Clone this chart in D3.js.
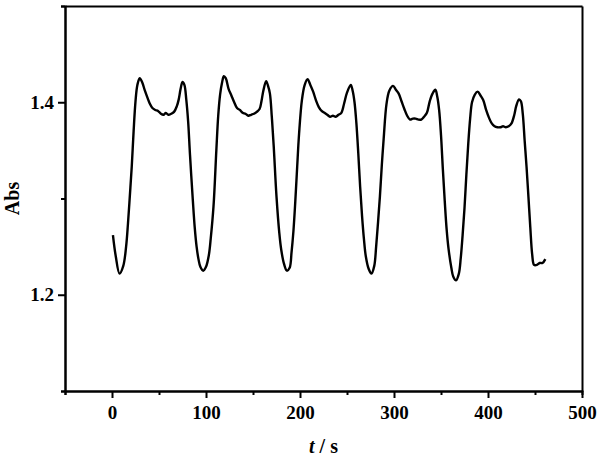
<!DOCTYPE html>
<meta charset="utf-8">
<style>
  body { margin: 0; background: #fff; }
  svg { display: block; }
  .axis text { font: bold 19px "Liberation Serif", "Times New Roman", serif; fill: #000; }
  .axis path, .axis line { stroke: #000; stroke-width: 2px; }
  .title { font: bold 20px "Liberation Serif", "Times New Roman", serif; fill: #000; }
</style>
<body>
<script src="https://d3js.org/d3.v7.min.js"></script>
<script>
// time in seconds
var time = [1, 4, 8, 12, 15, 17, 19, 21, 23, 25, 27, 29.5, 32, 35, 38, 40, 43, 46, 49, 52, 55, 57, 60, 63, 66, 69, 71, 73, 75, 77, 79,
  81, 83, 86, 88, 90, 92, 94, 97, 100, 103, 105, 108, 111, 113, 115, 117, 119, 121, 124, 127, 130, 133, 136, 139, 142, 145, 148, 151, 154, 157,
  159, 161, 164, 166, 168, 170, 172, 175, 178, 180, 183, 186, 189, 191, 193, 195, 197, 199, 202, 205, 208, 211, 214, 217, 220, 223, 226, 229, 232, 235,
  238, 241, 244, 247, 250, 254, 256, 258, 260, 262, 264, 266, 268, 270, 273, 276, 279, 281, 283, 285, 287, 289, 292, 295, 299, 302, 305, 308, 311, 314,
  317, 320, 323, 326, 329, 332, 335, 338, 341, 344, 346, 348, 350, 352, 354, 356, 358, 361, 363, 366, 369, 371, 373, 375, 377, 379, 381, 383, 386, 389,
  392, 395, 398, 401, 404, 407, 410, 413, 416, 419, 422, 425, 428, 430, 433, 435, 437, 439, 441, 443, 445, 447, 449, 452, 455, 458, 461];

// absorbance
var absorb = [1.262, 1.240, 1.222, 1.230, 1.250, 1.274, 1.303, 1.333, 1.370, 1.401, 1.418, 1.425, 1.421, 1.412, 1.404, 1.399, 1.394, 1.392, 1.391, 1.388, 1.387, 1.389, 1.387, 1.388, 1.390, 1.396, 1.403, 1.414, 1.421, 1.418, 1.403,
  1.380, 1.345, 1.298, 1.270, 1.250, 1.237, 1.229, 1.225, 1.229, 1.241, 1.258, 1.292, 1.350, 1.386, 1.408, 1.420, 1.427, 1.425, 1.414, 1.407, 1.400, 1.394, 1.392, 1.389, 1.388, 1.386, 1.387, 1.388, 1.390, 1.393,
  1.401, 1.412, 1.422, 1.417, 1.409, 1.385, 1.355, 1.302, 1.264, 1.247, 1.232, 1.225, 1.228, 1.244, 1.266, 1.297, 1.333, 1.367, 1.402, 1.418, 1.424, 1.418, 1.411, 1.402, 1.395, 1.391, 1.389, 1.387, 1.385, 1.386,
  1.385, 1.387, 1.389, 1.399, 1.410, 1.418, 1.412, 1.400, 1.378, 1.347, 1.312, 1.282, 1.258, 1.240, 1.227, 1.222, 1.230, 1.250, 1.275, 1.302, 1.334, 1.362, 1.398, 1.412, 1.417, 1.413, 1.409, 1.401, 1.393, 1.386,
  1.382, 1.383, 1.383, 1.382, 1.382, 1.385, 1.389, 1.401, 1.409, 1.413, 1.406, 1.392, 1.366, 1.330, 1.297, 1.268, 1.248, 1.228, 1.219, 1.215, 1.222, 1.238, 1.262, 1.290, 1.325, 1.357, 1.383, 1.400, 1.408, 1.411,
  1.407, 1.402, 1.392, 1.384, 1.378, 1.375, 1.374, 1.374, 1.375, 1.374, 1.375, 1.378, 1.387, 1.396, 1.403, 1.401, 1.388, 1.360, 1.333, 1.302, 1.270, 1.242, 1.231, 1.231, 1.233, 1.233, 1.237];

var xMajor = [0, 100, 200, 300, 400, 500];
var xMinor = [-50, 50, 150, 250, 350, 450];
var yMajor = [1.2, 1.4];
var yMinor = [1.1, 1.3, 1.5];

var margin = {top: 6, right: 20, bottom: 65, left: 65},
    width  = 602 - margin.left - margin.right,
    height = 456 - margin.top - margin.bottom;

var svg = d3.select("body").append("svg")
  .attr("width", 602)
  .attr("height", 456);

var chart = svg.append("g")
  .attr("transform", "translate(" + margin.left + "," + margin.top + ")");

var x = d3.scaleLinear().domain([-50, 500]).range([0, width]);
var y = d3.scaleLinear().domain([1.1, 1.5]).range([height, 0]);

// minor ticks first, then major with labels
chart.append("g").attr("class", "axis")
  .attr("transform", "translate(0," + height + ")")
  .call(d3.axisBottom(x).tickValues(xMinor).tickSize(4).tickFormat(""));
chart.append("g").attr("class", "axis")
  .attr("transform", "translate(0," + height + ")")
  .call(d3.axisBottom(x).tickValues(xMajor).tickSize(7).tickPadding(8).tickSizeOuter(0));

chart.append("g").attr("class", "axis")
  .call(d3.axisLeft(y).tickValues(yMinor).tickSize(4).tickFormat(""));
chart.append("g").attr("class", "axis")
  .call(d3.axisLeft(y).tickValues(yMajor).tickSize(7).tickPadding(4).tickFormat(d3.format(".1f")).tickSizeOuter(0));

// top and right frame
chart.append("g").attr("class", "axis")
  .call(d3.axisTop(x).tickValues([]).tickSizeOuter(0));
chart.append("g").attr("class", "axis")
  .attr("transform", "translate(" + width + ",0)")
  .call(d3.axisRight(y).tickValues([]).tickSizeOuter(0));

var data = time.map(function(t, i){ return {t: t, a: absorb[i]}; });

var line = d3.line()
  .x(function(d){ return x(d.t); })
  .y(function(d){ return y(d.a); })
  .curve(d3.curveCatmullRom);

chart.append("path")
  .datum(data)
  .attr("fill", "none")
  .attr("stroke", "#000")
  .attr("stroke-width", 2.4)
  .attr("stroke-linejoin", "round")
  .attr("d", line);

// axis titles
svg.append("text")
  .attr("class", "title")
  .attr("text-anchor", "middle")
  .attr("transform", "translate(19," + (margin.top + height / 2) + ") rotate(-90)")
  .text("Abs");

var xt = svg.append("text")
  .attr("class", "title")
  .attr("text-anchor", "middle")
  .attr("x", margin.left + width / 2)
  .attr("y", 453);
xt.append("tspan").style("font-style", "italic").text("t");
xt.append("tspan").text(" / s");
</script>
</body>
